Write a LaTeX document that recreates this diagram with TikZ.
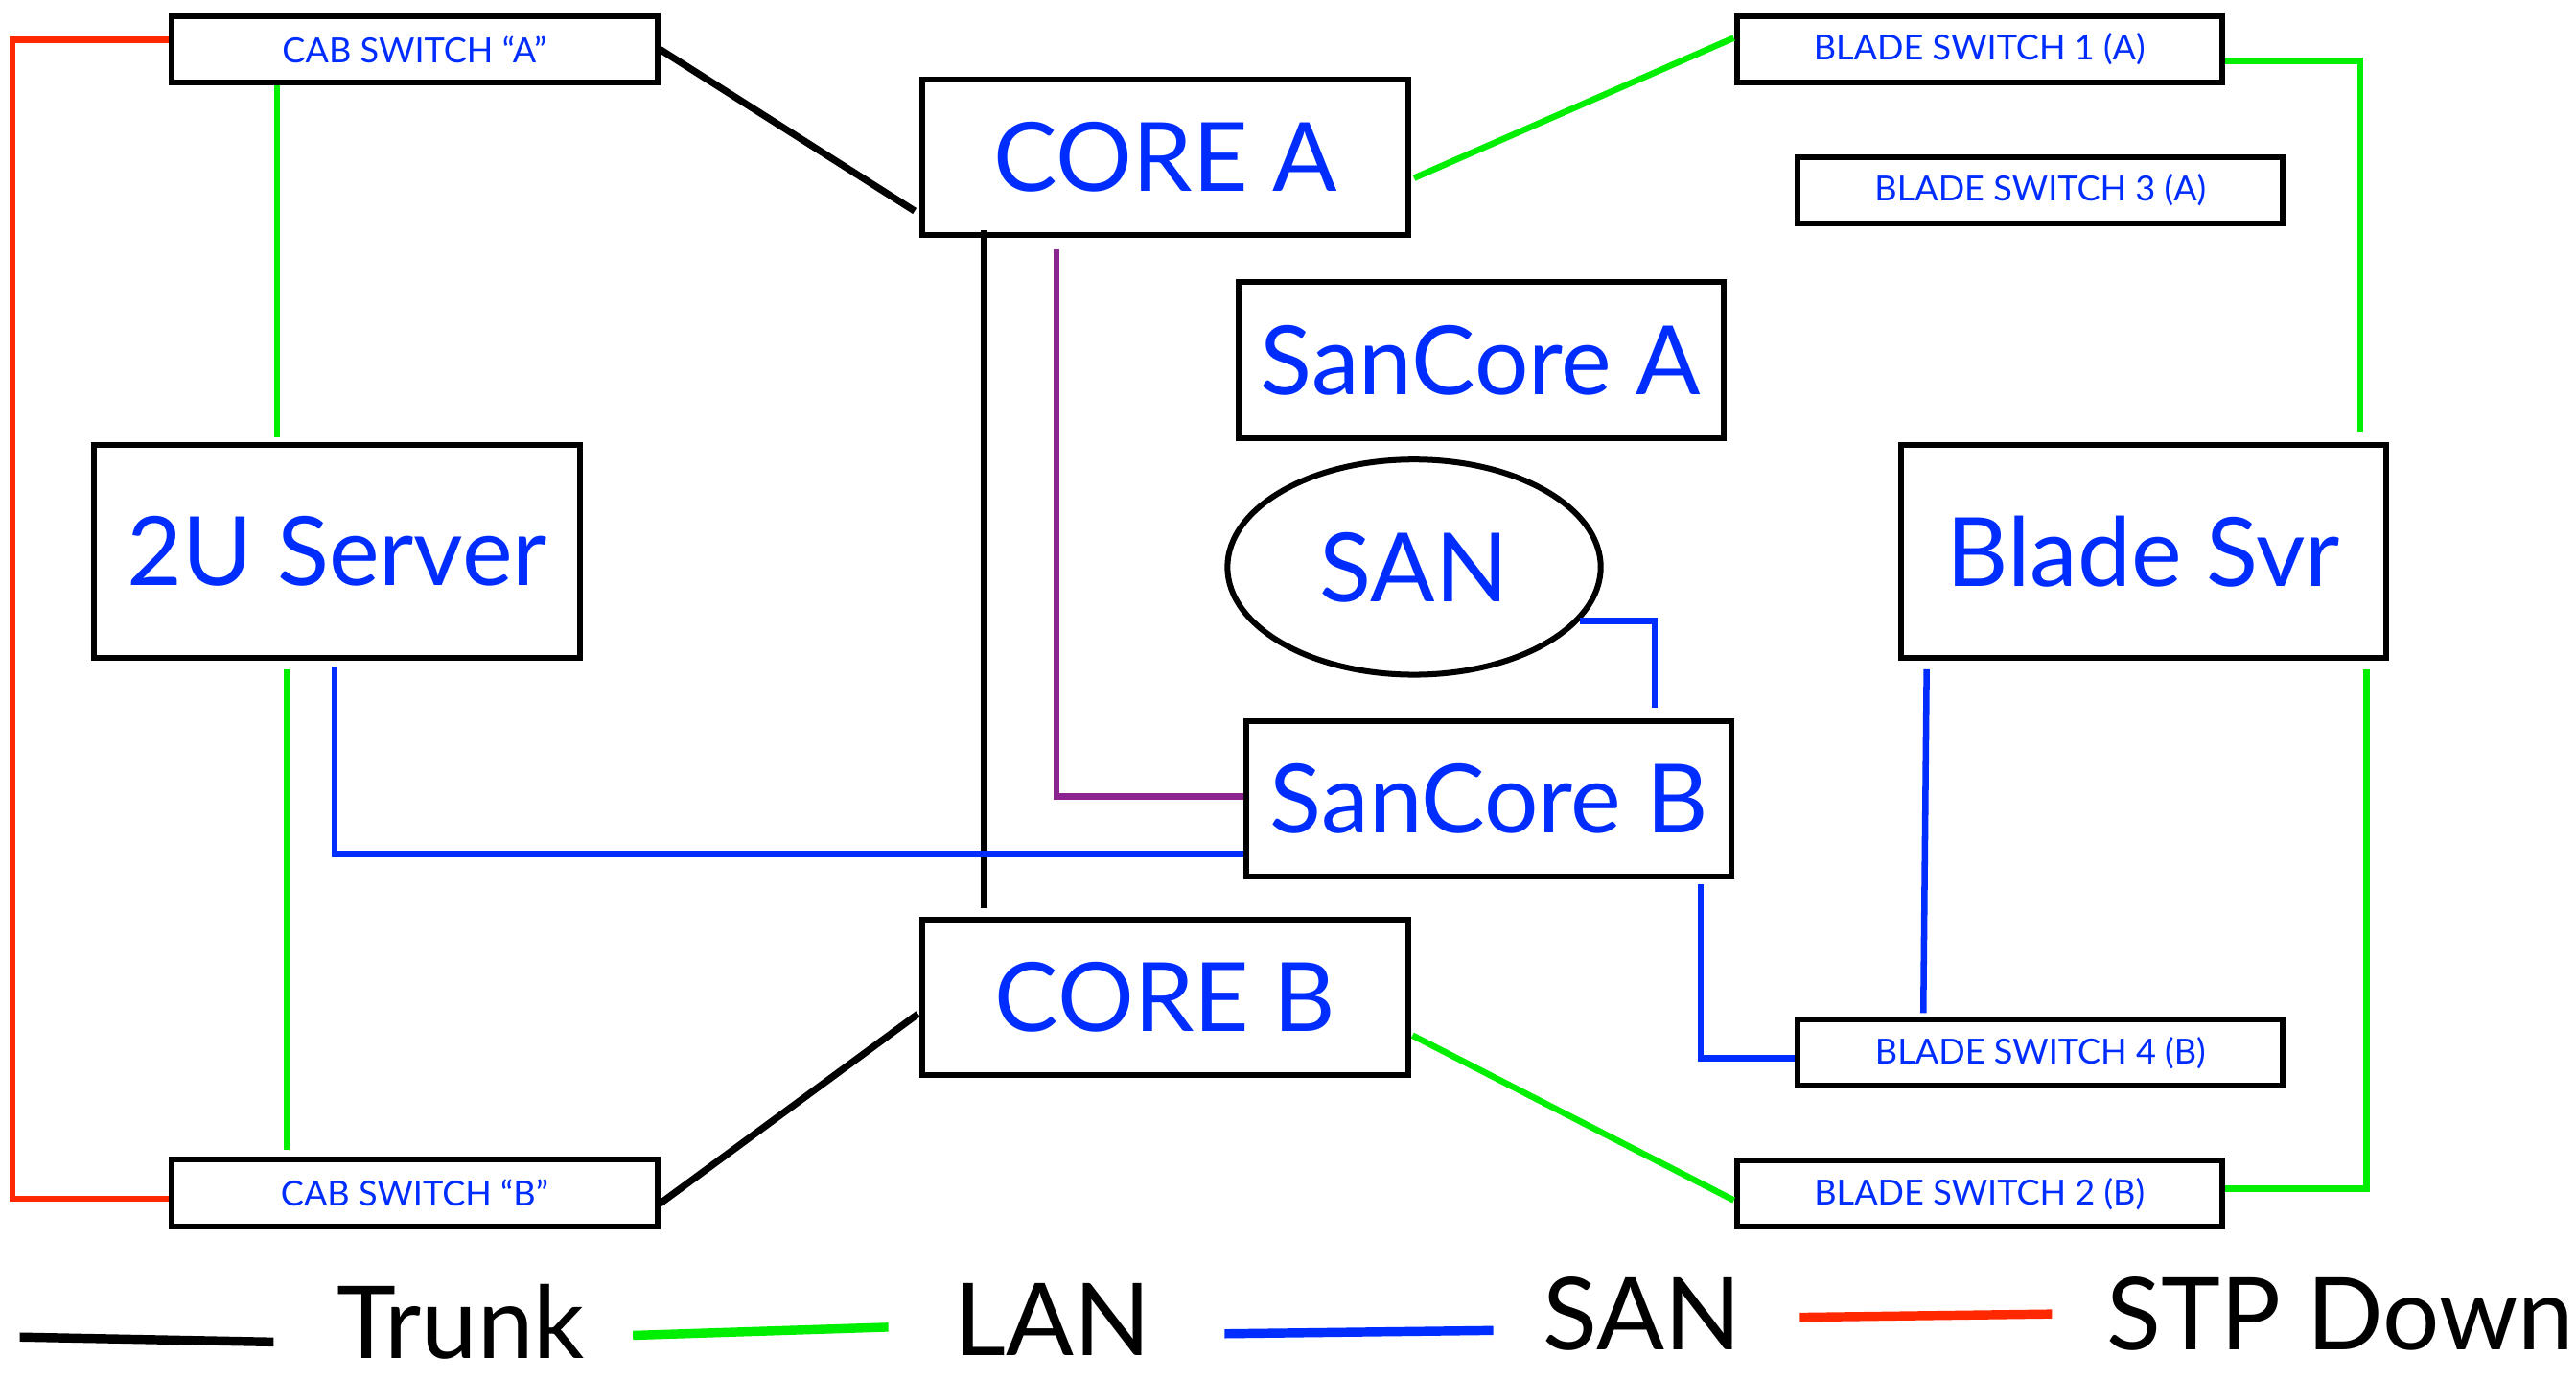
\documentclass[tikz,border=0pt]{standalone}
\usepackage{fontspec}
\setmainfont{Lato}
\usetikzlibrary{calc,shapes.geometric}
\definecolor{lblue}{RGB}{0,45,255}
\definecolor{lgreen}{RGB}{0,238,0}
\definecolor{lred}{RGB}{255,40,0}
\definecolor{lpurple}{RGB}{142,36,144}
\begin{document}
\begin{tikzpicture}[x=1pt,y=-1pt,
  box/.style={draw=black,line width=3.5pt,fill=white,inner sep=0pt,text=lblue,minimum width=294.5pt},
  bigbox/.style={box,font=\fontsize{58}{60}\selectfont,minimum height=94.5pt},
  tallbox/.style={box,font=\fontsize{58}{60}\selectfont,minimum height=129.5pt},
  smallbox/.style={box,font=\fontsize{21}{23}\selectfont,minimum height=40.5pt},
  trunk/.style={draw=black,line width=4.2pt},
  lan/.style={draw=lgreen,line width=3.8pt},
  sanl/.style={draw=lblue,line width=3.8pt},
  stp/.style={draw=lred,line width=3.8pt},
  fcl/.style={draw=lpurple,line width=3.8pt},
  legline/.style={line width=5.5pt},
  legtext/.style={anchor=base west,inner sep=0pt,font=\fontsize{61}{63}\selectfont,text=black}]
\useasboundingbox[fill=white] (0,0) rectangle (1563,836.5);

% nodes
\node[smallbox] (cabA) at (251.5,30) {CAB SWITCH “A”};
\node[bigbox]   (coreA) at (707,95.5) {CORE A};
\node[smallbox] (bs1) at (1201,30) {BLADE SWITCH 1 (A)};
\node[smallbox] (bs3) at (1238,115.5) {BLADE SWITCH 3 (A)};
\node[bigbox]   (scA) at (898.5,218.5) {SanCore A};
\node[ellipse,draw=black,line width=3.5pt,fill=white,inner sep=0pt,text=lblue,
      font=\fontsize{58}{60}\selectfont,minimum width=226.5pt,minimum height=130.5pt] (san) at (858,344) {SAN};
\node[tallbox]  (srv) at (204.5,334.5) {2U Server};
\node[tallbox]  (bsvr) at (1300.5,334.5) {Blade Svr};
\node[bigbox]   (scB) at (903.5,484.5) {SanCore B};
\node[bigbox]   (coreB) at (707,605) {CORE B};
\node[smallbox] (bs4) at (1238,638.5) {BLADE SWITCH 4 (B)};
\node[smallbox] (cabB) at (251.5,723.5) {CAB SWITCH “B”};
\node[smallbox] (bs2) at (1201,724) {BLADE SWITCH 2 (B)};

% STP down
\draw[stp] ($(cabA.west)+(0,-6)$) -- ++(-95,0) |- ($(cabB.west)+(0,3.5)$);
% LAN
\draw[lan] ($(cabA.south)+(-83.5,0)$) -- ($(srv.north)+(-36.5,-3)$);
\draw[lan] ($(srv.south)+(-30.5,5)$) -- ($(cabB.north)+(-77.5,-4)$);
\draw[lan] ($(coreA.east)+(2,12.5)$) -- ($(bs1.west)+(0,-7)$);
\draw[lan] ($(bs1.east)+(0,7)$) -| ($(bsvr.north)+(131.5,-6)$);
\draw[lan] ($(bsvr.south)+(135.5,5)$) |- ($(bs2.east)+(0,-3)$);
\draw[lan] ($(coreB.east)+(1,23)$) -- ($(bs2.west)+(0,4)$);
% trunks
\draw[trunk] (cabA.east) -- ($(coreA.west)+(-3,32.5)$);
\draw[trunk] ($(coreA.south)+(-110,-5)$) -- ($(coreB.north)+(-110,-5)$);
\draw[trunk] ($(coreB.west)+(-1,10)$) -- ($(cabB.east)+(0,6.5)$);
% purple
\draw[fcl] ($(coreA.south)+(-66,7)$) |- ($(scB.west)+(0,-1.5)$);
% SAN
\draw[sanl] ($(srv.south)+(-1.5,3)$) |- ($(scB.west)+(0,33.5)$);
\draw[sanl] (san.-18) -| ($(scB.north)+(100.5,-6)$);
\draw[sanl] ($(scB.south)+(128.5,3)$) |- ($(bs4.west)+(0,3.5)$);
\draw[sanl] ($(bs4.north)+(-71,-2)$) -- ($(bsvr.south)+(-131.5,5)$);

% legend
\coordinate (k1a) at (12,811);   \coordinate (k1b) at (166,814);
\coordinate (k2a) at (384,810);  \coordinate (k2b) at (539,805);
\coordinate (k3a) at (743,809);  \coordinate (k3b) at (906,807);
\coordinate (k4a) at (1092,799); \coordinate (k4b) at (1245,797);
\draw[legline,black] (k1a) -- (k1b);
\draw[legline,lgreen] (k2a) -- (k2b);
\draw[legline,lblue] (k3a) -- (k3b);
\draw[legline,lred] (k4a) -- (k4b);
\node[legtext] (tTrunk) at (204,824) {Trunk};
\node[legtext] (tLAN) at (579,822) {LAN};
\node[legtext] (tSAN) at (936,819) {SAN};
\node[legtext] (tSTP) at (1278,819) {STP Down};
\end{tikzpicture}
\end{document}
